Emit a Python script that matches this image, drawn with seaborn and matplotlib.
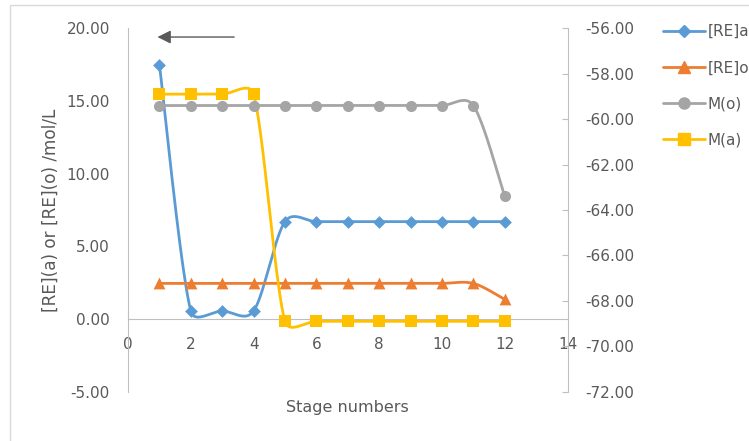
import numpy as np
import matplotlib
matplotlib.use("Agg")
import matplotlib.pyplot as plt
import seaborn as sns
from matplotlib.lines import Line2D
from matplotlib.patches import Rectangle

# ================================
# Data
# ================================
stages = [1, 2, 3, 4, 5, 6, 7, 8, 9, 10, 11, 12]
re_a = [17.5, 0.55, 0.55, 0.55, 6.7, 6.7, 6.7, 6.7, 6.7, 6.7, 6.7, 6.7]
re_o = [2.45, 2.45, 2.45, 2.45, 2.45, 2.45, 2.45, 2.45, 2.45, 2.45, 2.45, 1.35]
# M series sit on the secondary (right) axis
m_o = [-59.4, -59.4, -59.4, -59.4, -59.4, -59.4, -59.4, -59.4, -59.4, -59.4, -59.4, -63.4]
m_a = [-58.9, -58.9, -58.9, -58.9, -68.9, -68.9, -68.9, -68.9, -68.9, -68.9, -68.9, -68.9]

left_ticks = [-5, 0, 5, 10, 15, 20]
right_ticks = [-72, -70, -68, -66, -64, -62, -60, -58, -56]
x_ticks = [0, 2, 4, 6, 8, 10, 12, 14]

BLUE, ORANGE, GREY, YELLOW = "#5B9BD5", "#ED7D31", "#A5A5A5", "#FFC000"
TXT = "#595959"
AXC = "#BFBFBF"


def smooth(a, x, y, n=40):
    # Excel-like smoothed line: Bezier segments built in pixel space,
    # control arms limited relative to the segment length
    p = a.transData.transform(np.column_stack([x, y]).astype(float))
    pts = []
    for i in range(len(p) - 1):
        p0 = p[i - 1] if i > 0 else p[i]
        p1, p2 = p[i], p[i + 1]
        p3 = p[i + 2] if i + 2 < len(p) else p[i + 1]
        seg_len = np.linalg.norm(p2 - p1)
        v1 = (p2 - p0) / 6
        v2 = (p3 - p1) / 6
        cap = 0.45 * seg_len
        for v in (v1, v2):
            L = np.linalg.norm(v)
            if L > cap:
                v *= cap / L
        c1 = p1 + v1
        c2 = p2 - v2
        t = np.linspace(0, 1, n)[:, None]
        seg = (1 - t) ** 3 * p1 + 3 * (1 - t) ** 2 * t * c1 + 3 * (1 - t) * t ** 2 * c2 + t ** 3 * p2
        pts.append(seg if i == 0 else seg[1:])
    s = a.transData.inverted().transform(np.vstack(pts))
    return s[:, 0], s[:, 1]


sns.set_style("white")
plt.rcParams['font.family'] = ['DejaVu Sans']
plt.rcParams['axes.unicode_minus'] = False
FS = 11

fig = plt.figure(figsize=(7.49, 4.41), dpi=100)
ax = fig.add_axes([0.1709, 0.1118, 0.5868, 0.8240])
ax2 = ax.twinx()

# axes limits first, so the smoothing can work in pixel space
ax.set_xlim(0, 14)
ax.set_ylim(-5, 20)
ax2.set_ylim(-72, -56)

# left axis series
for vals, col, mk, ms in [(re_a, BLUE, "D", 6.5), (re_o, ORANGE, "^", 8.5)]:
    sx, sy = smooth(ax, stages, vals)
    ax.plot(sx, sy, color=col, lw=2, zorder=3)
    sns.scatterplot(x=stages, y=vals, ax=ax, color=col, marker=mk, s=ms ** 2,
                    edgecolor=col, linewidth=0, zorder=4)

# right axis series
for vals, col, mk, ms in [(m_o, GREY, "o", 8), (m_a, YELLOW, "s", 8)]:
    sx, sy = smooth(ax2, stages, vals)
    ax2.plot(sx, sy, color=col, lw=2, zorder=3)
    sns.scatterplot(x=stages, y=vals, ax=ax2, color=col, marker=mk, s=ms ** 2,
                    edgecolor=col, linewidth=0, zorder=4)

# axes styling
ax.set_xticks(x_ticks)
ax.set_yticks(left_ticks)
ax.set_yticklabels([f"{v:.2f}" for v in left_ticks])
ax2.set_yticks(right_ticks)
ax2.set_yticklabels([f"{v:.2f}" for v in right_ticks])

for a in (ax, ax2):
    for s in a.spines.values():
        s.set_visible(False)
ax.spines['left'].set_visible(True)
ax.spines['left'].set_color(AXC)
ax.spines['bottom'].set_visible(True)
ax.spines['bottom'].set_color(AXC)
ax.spines['bottom'].set_position(('data', 0))
ax2.spines['right'].set_visible(True)
ax2.spines['right'].set_color(AXC)

ax.tick_params(axis='y', length=0, pad=13, labelsize=FS, labelcolor=TXT)
ax.tick_params(axis='x', length=0, pad=13, labelsize=FS, labelcolor=TXT)
ax2.tick_params(axis='y', direction='in', length=4, color=AXC, pad=13,
                labelsize=FS, labelcolor=TXT)

ax.set_ylabel("[RE](a) or [RE](o) /mol/L", fontsize=12.2, color=TXT)
ax.yaxis.set_label_coords(-0.155, 0.5)
ax.set_xlabel("Stage numbers", fontsize=11.5, color=TXT)
ax.xaxis.set_label_coords(0.5, -0.024)

ax.annotate("", xy=(0.85, 19.4), xytext=(3.47, 19.4),
            arrowprops=dict(arrowstyle="-|>", color="#595959", lw=1,
                            mutation_scale=20))

handles = [
    Line2D([], [], color=BLUE, lw=2, marker="D", ms=6.5),
    Line2D([], [], color=ORANGE, lw=2, marker="^", ms=8.5),
    Line2D([], [], color=GREY, lw=2, marker="o", ms=8),
    Line2D([], [], color=YELLOW, lw=2, marker="s", ms=8),
]
fig.legend(handles, ["[RE]a", "[RE]o", "M(o)", "M(a)"], loc="upper left",
           bbox_to_anchor=(0.885, 0.945), frameon=False, fontsize=FS,
           labelcolor=TXT, handlelength=2.75, handletextpad=0.2,
           labelspacing=1.38, borderaxespad=0, borderpad=0)

fig.add_artist(Rectangle((10 / 749, -0.05), 1.2, 0.9887 + 0.05, transform=fig.transFigure,
                         fill=False, edgecolor="#D9D9D9", lw=1))

fig.savefig("out.png", dpi=100)
